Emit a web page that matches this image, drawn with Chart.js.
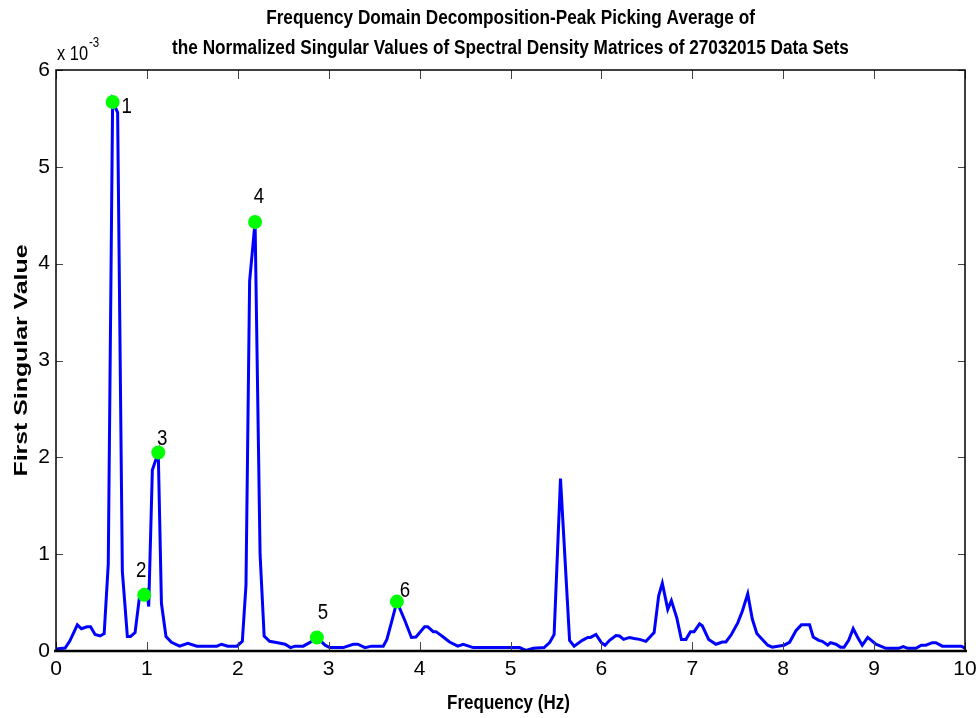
<!DOCTYPE html>
<html>
<head>
<meta charset="utf-8">
<title>FDD peak picking</title>
<script src="https://cdn.jsdelivr.net/npm/chart.js@4.4.1/dist/chart.umd.min.js"></script>
<style>
  body { margin: 0; background: #ffffff; }
  #wrap { width: 978px; height: 718px; }
</style>
</head>
<body>
<div id="wrap"><canvas id="chart" width="978" height="718"></canvas></div>
<script>
// values are in units of 10^-3 (see the "x 10^-3" multiplier on the y axis)
const frequency = [
    0.00, 0.10, 0.15, 0.235, 0.28, 0.34, 0.38, 0.43, 0.485, 0.53,
    0.575, 0.623, 0.678, 0.73, 0.785, 0.82, 0.87, 0.92, 0.97, 1.00,
    1.02, 1.06, 1.125, 1.16, 1.21, 1.27, 1.36, 1.45, 1.55, 1.77,
    1.82, 1.89, 1.99, 2.05, 2.09, 2.13, 2.19, 2.245, 2.29, 2.35,
    2.44, 2.52, 2.58, 2.63, 2.72, 2.79, 2.87, 2.96, 3.01, 3.16,
    3.27, 3.32, 3.40, 3.47, 3.60, 3.64, 3.70, 3.75, 3.84, 3.91,
    3.96, 4.055, 4.09, 4.15, 4.18, 4.26, 4.33, 4.42, 4.48, 4.59,
    5.10, 5.17, 5.25, 5.37, 5.43, 5.48, 5.55, 5.65, 5.70, 5.79,
    5.85, 5.88, 5.94, 6.00, 6.04, 6.09, 6.16, 6.20, 6.245, 6.31,
    6.36, 6.42, 6.49, 6.58, 6.63, 6.67, 6.73, 6.77, 6.83, 6.88,
    6.93, 6.98, 7.02, 7.08, 7.11, 7.18, 7.26, 7.33, 7.37, 7.43,
    7.50, 7.55, 7.61, 7.66, 7.71, 7.75, 7.83, 7.88, 7.94, 8.01,
    8.07, 8.14, 8.20, 8.29, 8.33, 8.39, 8.43, 8.49, 8.52, 8.58,
    8.63, 8.67, 8.72, 8.77, 8.82, 8.87, 8.93, 8.97, 9.02, 9.13,
    9.27, 9.32, 9.37, 9.46, 9.52, 9.57, 9.64, 9.68, 9.75, 9.96,
    10.0
];
const singularValue = [
    0.02, 0.03, 0.10, 0.27, 0.23, 0.25, 0.25, 0.17, 0.155, 0.18,
    0.90, 5.68, 5.56, 0.82, 0.15, 0.15, 0.19, 0.57, 0.58, 0.62,
    0.46, 1.87, 2.05, 0.49, 0.15, 0.09, 0.05, 0.08, 0.05, 0.05,
    0.07, 0.05, 0.05, 0.10, 0.68, 3.82, 4.43, 1.00, 0.155, 0.10,
    0.086, 0.07, 0.035, 0.05, 0.05, 0.086, 0.14, 0.06, 0.035, 0.035,
    0.07, 0.07, 0.035, 0.05, 0.05, 0.12, 0.33, 0.51, 0.31, 0.14,
    0.145, 0.25, 0.25, 0.20, 0.20, 0.145, 0.093, 0.05, 0.07, 0.035,
    0.035, 0.007, 0.028, 0.035, 0.086, 0.17, 1.78, 0.11, 0.05, 0.11,
    0.14, 0.14, 0.17, 0.086, 0.06, 0.11, 0.16, 0.155, 0.12, 0.14,
    0.13, 0.12, 0.10, 0.19, 0.57, 0.70, 0.43, 0.52, 0.34, 0.12,
    0.12, 0.20, 0.20, 0.28, 0.26, 0.12, 0.07, 0.093, 0.093, 0.17,
    0.29, 0.41, 0.59, 0.33, 0.18, 0.14, 0.06, 0.04, 0.05, 0.06,
    0.09, 0.21, 0.27, 0.27, 0.145, 0.11, 0.10, 0.06, 0.086, 0.07,
    0.04, 0.04, 0.11, 0.23, 0.14, 0.06, 0.14, 0.11, 0.07, 0.028,
    0.028, 0.045, 0.028, 0.028, 0.06, 0.06, 0.086, 0.086, 0.05, 0.05,
    0.028
];

const peakFrequency = [0.623, 0.97, 1.125, 2.19, 2.87, 3.75];
const peakValue = [5.67, 0.58, 2.05, 4.43, 0.14, 0.51];
const peakLabels = ["1", "2", "3", "4", "5", "6"];

const xTicks = [0, 1, 2, 3, 4, 5, 6, 7, 8, 9, 10];
const yTicks = [0, 1, 2, 3, 4, 5, 6];

const titleLines = [
    "Frequency Domain Decomposition-Peak Picking Average of",
    "the Normalized Singular Values of Spectral Density Matrices of 27032015 Data Sets"
];
const xTitle = "Frequency (Hz)";
const yTitle = "First Singular Value";

const FONT = "'Liberation Sans', Arial, sans-serif";

// label offsets (px) of the peak numbers relative to their markers
const labelOffsets = [[14, 5], [-3, -24], [4, -14], [4, -25], [6, -25], [8, -11]];

const linePoints = frequency.map((f, i) => ({ x: f, y: singularValue[i] }));
const peakPoints = peakFrequency.map((f, i) => ({ x: f, y: peakValue[i] }));

// the MATLAB export has narrow, tall lettering: squeeze text horizontally
function squeezedText(ctx, text, x, y, font, sx, align, rotate) {
    ctx.save();
    ctx.translate(x, y);
    if (rotate) ctx.rotate(-Math.PI / 2);
    ctx.scale(sx, 1);
    ctx.font = font;
    ctx.textAlign = align || "center";
    ctx.textBaseline = "middle";
    ctx.fillText(text, 0, 0);
    const w = ctx.measureText(text).width * sx;
    ctx.restore();
    return w;
}

const matlabFrame = {
    id: "matlabFrame",
    afterDraw(chart) {
        const ctx = chart.ctx;
        const { left, right, top, bottom } = chart.chartArea;
        const xs = chart.scales.x;
        const ys = chart.scales.y;
        ctx.save();

        // inward ticks on all four sides
        ctx.strokeStyle = "#444";
        ctx.lineWidth = 1;
        ctx.beginPath();
        xTicks.forEach((v) => {
            const px = Math.round(xs.getPixelForValue(v)) + 0.5;
            ctx.moveTo(px, bottom); ctx.lineTo(px, bottom - 9);
            ctx.moveTo(px, top); ctx.lineTo(px, top + 9);
        });
        yTicks.forEach((v) => {
            const py = Math.round(ys.getPixelForValue(v)) + 0.5;
            ctx.moveTo(left, py); ctx.lineTo(left + 7, py);
            ctx.moveTo(right, py); ctx.lineTo(right - 7, py);
        });
        ctx.stroke();

        // box
        ctx.strokeStyle = "#000";
        ctx.lineWidth = 1.5;
        ctx.strokeRect(left, top, right - left, bottom - top);
        ctx.lineWidth = 2.5;
        ctx.beginPath();
        ctx.moveTo(left - 2, bottom);
        ctx.lineTo(right + 2, bottom);
        ctx.stroke();

        ctx.fillStyle = "#000";

        // peak numbers
        const meta = chart.getDatasetMeta(1);
        meta.data.forEach((pt, i) => {
            squeezedText(ctx, peakLabels[i], pt.x + labelOffsets[i][0], pt.y + labelOffsets[i][1],
                "22px " + FONT, 0.85);
        });

        // title, centered over the plot area
        const cx = (left + right) / 2;
        squeezedText(ctx, titleLines[0], cx, 18, "bold 20px " + FONT, 0.86);
        squeezedText(ctx, titleLines[1], cx, 48, "bold 20px " + FONT, 0.86);

        // axis titles
        squeezedText(ctx, xTitle, cx - 2, 703, "bold 20px " + FONT, 0.85);
        squeezedText(ctx, yTitle, 22, (top + bottom) / 2, "bold 18px " + FONT, 1.38, "center", true);

        // exponent multiplier
        const w = squeezedText(ctx, "x 10", left + 1, 54, "20px " + FONT, 0.82, "left");
        squeezedText(ctx, "-3", left + 2 + w, 43, "14px " + FONT, 0.82, "left");

        ctx.restore();
    }
};

new Chart(document.getElementById("chart"), {
    type: "line",
    data: {
        datasets: [
            {
                label: "First singular value",
                data: linePoints,
                borderColor: "rgb(0, 0, 255)",
                borderWidth: 3,
                pointRadius: 0,
                tension: 0,
                fill: false,
                order: 2
            },
            {
                label: "Picked peaks",
                data: peakPoints,
                showLine: false,
                pointRadius: 7,
                pointBackgroundColor: "rgb(0, 255, 0)",
                pointBorderColor: "rgb(0, 255, 0)",
                pointBorderWidth: 0,
                order: 1
            }
        ]
    },
    options: {
        responsive: false,
        animation: false,
        layout: { padding: { top: 70, right: 13, bottom: 0, left: 0 } },
        plugins: {
            legend: { display: false },
            tooltip: { enabled: false },
            title: { display: false }
        },
        scales: {
            x: {
                type: "linear",
                min: 0,
                max: 10,
                afterFit: (scale) => {
                    scale.height = 67;
                    scale.paddingLeft = 0;
                    scale.paddingRight = 0;
                },
                afterBuildTicks: (scale) => { scale.ticks = xTicks.map((v) => ({ value: v })); },
                grid: { display: false, drawTicks: false },
                border: { display: false },
                ticks: {
                    color: "#000",
                    padding: 6,
                    maxRotation: 0,
                    font: { family: FONT, size: 21 }
                }
            },
            y: {
                type: "linear",
                min: 0,
                max: 6,
                afterFit: (scale) => { scale.width = 56; },
                afterBuildTicks: (scale) => { scale.ticks = yTicks.map((v) => ({ value: v })); },
                grid: { display: false, drawTicks: false },
                border: { display: false },
                ticks: {
                    color: "#000",
                    padding: 6,
                    font: { family: FONT, size: 21 }
                }
            }
        }
    },
    plugins: [matlabFrame]
});
</script>
</body>
</html>
